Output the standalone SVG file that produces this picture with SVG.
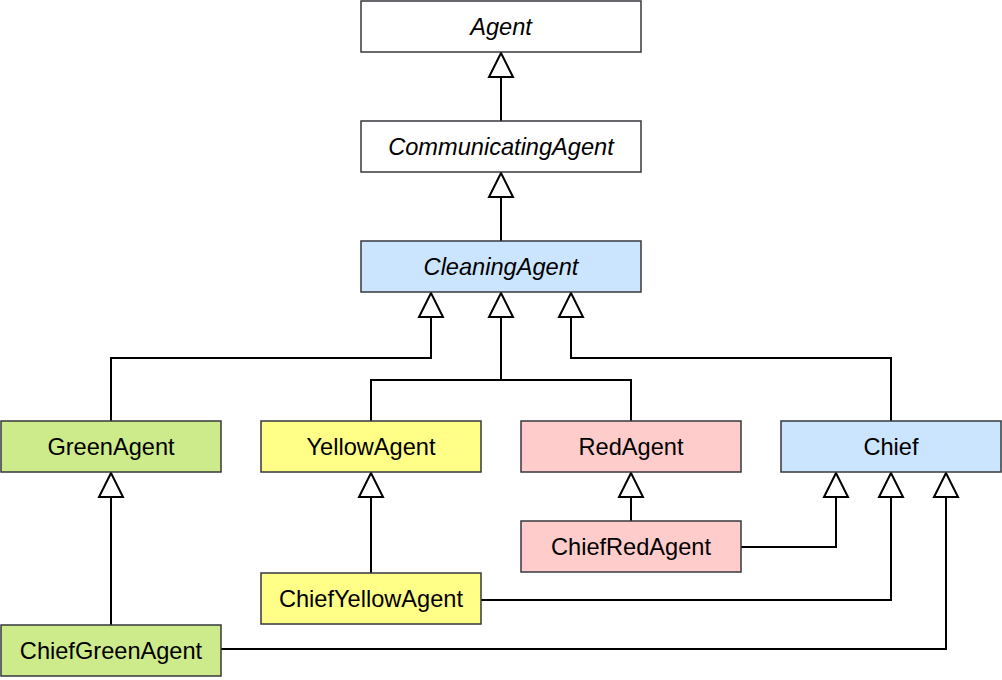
<svg xmlns="http://www.w3.org/2000/svg" width="1002" height="680" viewBox="0 0 1002 680">
<style>
.box{stroke:#36393d;stroke-width:1.5}
.w{fill:#ffffff}.b{fill:#cce5ff}.g{fill:#cdeb8b}.y{fill:#ffff88}.r{fill:#ffcccc}
text{font-family:"Liberation Sans",Arial,sans-serif;font-size:23.6px;fill:#000;text-anchor:middle}
.i{font-style:italic}
.c path{fill:none;stroke:#000;stroke-width:2}
.c polygon{fill:#fff;stroke:#000;stroke-width:2}
</style>
<rect width="1002" height="680" fill="#fff"/>
<g class="c" id="connectors">
<path d="M501 121V77"/><polygon points="501,53 489,77 513,77"/>
<path d="M501 241V197"/><polygon points="501,173 489,197 513,197"/>
<path d="M111 421V358H431V317"/><polygon points="431,293 419,317 443,317"/>
<path d="M371 421V380H631V421M501 380V317"/><polygon points="501,293 489,317 513,317"/>
<path d="M891 421V358H571V317"/><polygon points="571,293 559,317 583,317"/>
<path d="M111 625V497"/><polygon points="111,473 99,497 123,497"/>
<path d="M371 573V497"/><polygon points="371,473 359,497 383,497"/>
<path d="M631 521V497"/><polygon points="631,473 619,497 643,497"/>
<path d="M741 547H836V497"/><polygon points="836,473 824,497 848,497"/>
<path d="M481 600H891V497"/><polygon points="891,473 879,497 903,497"/>
<path d="M221 649H946V497"/><polygon points="946,473 934,497 958,497"/>
</g>
<g id="Agent"><rect class="box w" x="361" y="1" width="280" height="51"/><text class="i" x="501" y="35">Agent</text></g>
<g id="CommunicatingAgent"><rect class="box w" x="361" y="121" width="280" height="51"/><text class="i" x="501" y="155">CommunicatingAgent</text></g>
<g id="CleaningAgent"><rect class="box b" x="361" y="241" width="280" height="51"/><text class="i" x="501" y="275">CleaningAgent</text></g>
<g id="GreenAgent"><rect class="box g" x="1" y="421" width="220" height="51"/><text x="111" y="455">GreenAgent</text></g>
<g id="YellowAgent"><rect class="box y" x="261" y="421" width="220" height="51"/><text x="371" y="455">YellowAgent</text></g>
<g id="RedAgent"><rect class="box r" x="521" y="421" width="220" height="51"/><text x="631" y="455">RedAgent</text></g>
<g id="Chief"><rect class="box b" x="781" y="421" width="220" height="51"/><text x="891" y="455">Chief</text></g>
<g id="ChiefRedAgent"><rect class="box r" x="521" y="521" width="220" height="51"/><text x="631" y="555">ChiefRedAgent</text></g>
<g id="ChiefYellowAgent"><rect class="box y" x="261" y="573" width="220" height="51"/><text x="371" y="607">ChiefYellowAgent</text></g>
<g id="ChiefGreenAgent"><rect class="box g" x="1" y="625" width="220" height="51"/><text x="111" y="659">ChiefGreenAgent</text></g>
</svg>
